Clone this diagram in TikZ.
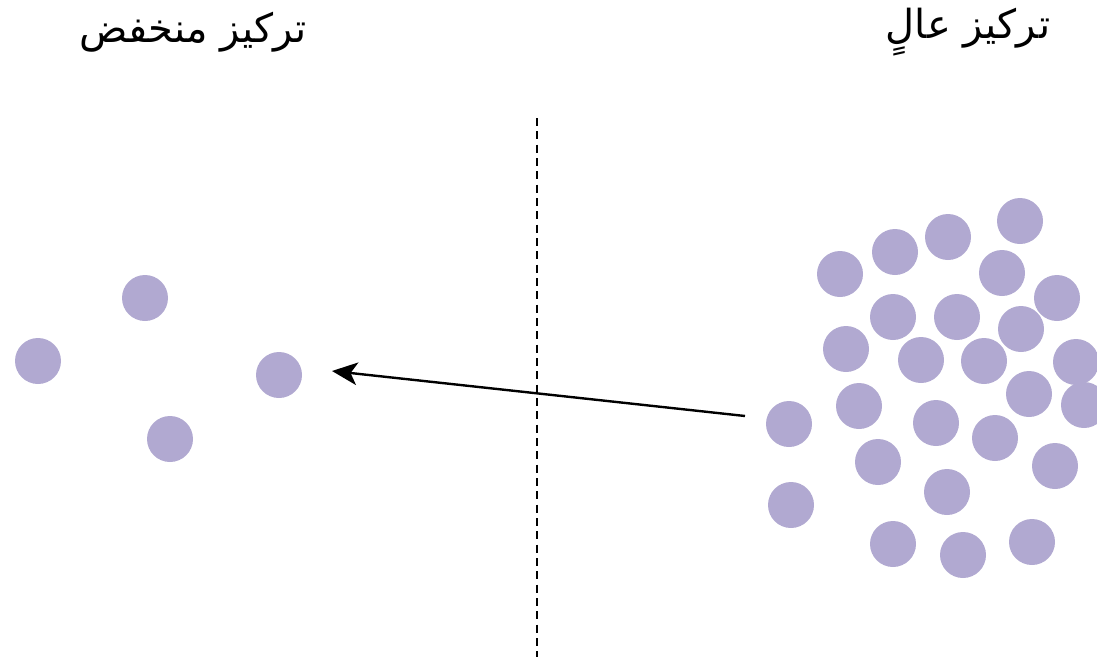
\documentclass[tikz,border=0pt]{standalone}
\usepackage{fontspec}
\newfontfamily\arabicfont[Script=Arabic]{DejaVu Sans}
\TeXXeTstate=1
\usetikzlibrary{arrows.meta}
\definecolor{particle}{HTML}{B1A9D1}
\tikzset{
  particle/.style={circle, fill=particle, draw=none, minimum size=34.5pt, inner sep=0pt},
  label text/.style={font=\arabicfont\fontsize{30}{36}\selectfont, inner sep=0pt},
  divider/.style={line width=1.2pt, dash pattern=on 6pt off 4pt},
  flow/.style={line width=1.8pt, -{Stealth[length=19pt, width=17pt, inset=5pt]}}
}
\begin{document}
\begin{tikzpicture}[x=0.75pt, y=-0.75pt]
\useasboundingbox (0,0) rectangle (1097,657);
% labels
\node[label text] (low) at (193,32) {\beginR تركيز منخفض\endR};
\node[label text] (high) at (968,32) {\beginR تركيز عالٍ\endR};
% divider
\coordinate (dtop) at (537,118);
\coordinate (dbot) at (537,657);
\draw[divider] (dtop) -- (dbot);
% left particles
\node[particle] (l1) at (38,361) {};
\node[particle] (l2) at (145,298) {};
\node[particle] (l3) at (279,375) {};
\node[particle] (l4) at (170,439) {};
% right particles
\node[particle] (r1) at (1020,221) {};
\node[particle] (r2) at (948,237) {};
\node[particle] (r3) at (895,252) {};
\node[particle] (r4) at (840,274) {};
\node[particle] (r5) at (1002,273) {};
\node[particle] (r6) at (1057,298) {};
\node[particle] (r7) at (893,317) {};
\node[particle] (r8) at (957,317) {};
\node[particle] (r9) at (1021,329) {};
\node[particle] (r10) at (846,349) {};
\node[particle] (r11) at (921,360) {};
\node[particle] (r12) at (984,361) {};
\node[particle] (r13) at (1076,362) {};
\node[particle] (r14) at (1029,394) {};
\node[particle] (r15) at (1084,405) {};
\node[particle] (r16) at (859,406) {};
\node[particle] (r17) at (789,424) {};
\node[particle] (r18) at (936,423) {};
\node[particle] (r19) at (995,438) {};
\node[particle] (r20) at (878,462) {};
\node[particle] (r21) at (1055,466) {};
\node[particle] (r22) at (947,492) {};
\node[particle] (r23) at (791,505) {};
\node[particle] (r24) at (893,544) {};
\node[particle] (r25) at (963,555) {};
\node[particle] (r26) at (1032,542) {};
% arrow
\coordinate (astart) at (745,416);
\coordinate (aend) at (332,371);
\draw[flow] (astart) -- (aend);
\end{tikzpicture}
\end{document}
